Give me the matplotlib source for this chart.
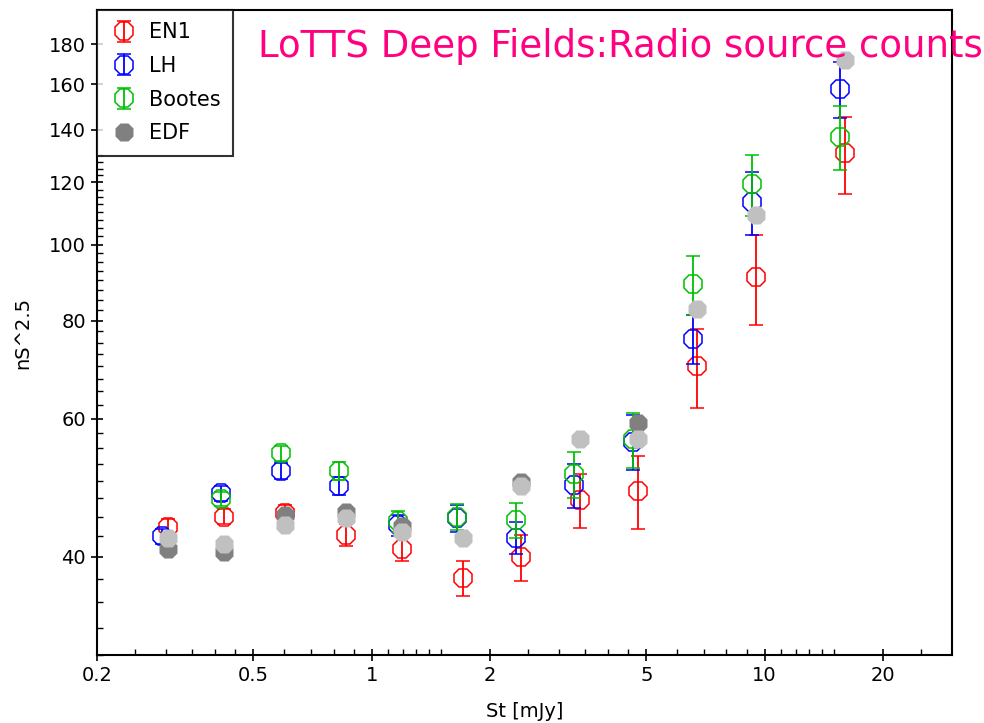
import numpy as np
import matplotlib
matplotlib.use("Agg")
import matplotlib.pyplot as plt
from matplotlib.ticker import FixedLocator, NullFormatter

# flux bins [mJy] and Euclidean-normalised counts per field
en1_s = [0.303, 0.422, 0.602, 0.859, 1.193, 1.706, 2.401, 3.391, 4.77, 6.72, 9.50, 16.03]
en1_n = [43.7, 45.0, 45.5, 42.7, 41.0, 37.6, 40.0, 47.3, 48.6, 70.0, 90.9, 130.7]
en1_err = [1.0, 1.0, 1.1, 1.4, 1.5, 1.9, 2.7, 3.7, 5.2, 8.0, 12.0, 14.6]

lh_s = [0.292, 0.414, 0.588, 0.826, 1.169, 1.652, 2.331, 3.274, 4.63, 6.56, 9.28, 15.57]
lh_n = [42.5, 48.2, 51.5, 49.3, 43.9, 44.8, 42.3, 49.4, 56.1, 75.9, 113.3, 157.9]
lh_err = [0.9, 1.0, 1.2, 1.3, 1.4, 1.8, 2.0, 3.2, 4.5, 5.5, 10.5, 13.0]

boo_s = [0.414, 0.588, 0.826, 1.169, 1.652, 2.331, 3.274, 4.63, 6.56, 9.28, 15.57]
boo_n = [47.4, 54.2, 51.5, 44.4, 45.0, 44.6, 51.0, 56.5, 89.0, 119.5, 137.3]
boo_err = [1.0, 1.2, 1.3, 1.4, 1.7, 2.3, 3.4, 4.6, 7.7, 10.6, 12.8]

edf_s = [0.303, 0.422, 0.602, 0.859, 1.193, 2.401, 4.77]
edf_n = [40.9, 40.6, 45.2, 45.7, 43.8, 49.8, 59.3]

edf2_s = [0.303, 0.422, 0.602, 0.859, 1.193, 1.706, 2.401, 3.391, 4.77, 6.72, 9.50, 16.03]
edf2_n = [42.3, 41.6, 43.9, 44.8, 43.0, 42.3, 49.3, 56.6, 56.5, 82.9, 109.2, 171.6]

x_major = [0.2, 0.5, 1, 2, 5, 10, 20]
x_labels = ["0.2", "0.5", "1", "2", "5", "10", "20"]
x_minor = [0.25, 0.3, 0.35, 0.4, 0.45, 0.6, 0.7, 0.8, 0.9, 1.1, 1.2, 1.3, 1.4, 1.5,
           2.5, 3, 3.5, 4, 4.5, 6, 7, 8, 9, 11, 12, 13, 14, 15, 25]
y_major = [40, 60, 80, 100, 120, 140, 160, 180]

plt.rcParams['font.family'] = ['DejaVu Sans']

fig = plt.figure(figsize=(9.84, 7.23), dpi=100)
ax = fig.add_axes([97 / 984, 68 / 723, 855 / 984, 645 / 723])
ax.set_xscale('log')
ax.set_yscale('log')

ebkw = dict(fmt='8', ms=14, mfc='none', mew=1.1, elinewidth=1.3, capsize=5, capthick=1.3)
h_en1 = ax.errorbar(en1_s, en1_n, yerr=en1_err, color='#ff0000', label='EN1', zorder=3, **ebkw)
h_lh = ax.errorbar(lh_s, lh_n, yerr=lh_err, color='#0000ff', label='LH', zorder=4, **ebkw)
h_boo = ax.errorbar(boo_s, boo_n, yerr=boo_err, color='#00c000', label='Bootes', zorder=5, **ebkw)
h_edf, = ax.plot(edf_s, edf_n, '8', ms=14, color='#808080', mec='none', label='EDF', zorder=6)
ax.plot(edf2_s, edf2_n, '8', ms=14, color='#c0c0c0', mec='none', zorder=7)

ax.set_xlim(0.2, 30)
ax.set_ylim(30, 199)

ax.xaxis.set_major_locator(FixedLocator(x_major))
ax.set_xticklabels(x_labels)
ax.xaxis.set_minor_locator(FixedLocator(x_minor))
ax.xaxis.set_minor_formatter(NullFormatter())

# minor ticks every 2.5 below the legend box
y_minor = [v for v in np.arange(30, 131, 2.5) if v not in y_major]
ax.yaxis.set_major_locator(FixedLocator(y_major))
ax.set_yticklabels([str(v) for v in y_major])
ax.yaxis.set_minor_locator(FixedLocator(y_minor))
ax.yaxis.set_minor_formatter(NullFormatter())

ax.tick_params(which='major', direction='inout', length=8, width=1.2, labelsize=14, pad=4)
ax.tick_params(which='minor', direction='in', length=4, width=1.0)
for sp in ax.spines.values():
    sp.set_linewidth(1.5)

ax.set_xlabel('St [mJy]', fontsize=14, labelpad=12)
ax.set_ylabel('nS^2.5', fontsize=14, labelpad=12)

leg = ax.legend([h_en1, h_lh, h_boo, h_edf], ['EN1', 'LH', 'Bootes', 'EDF'],
                loc='upper left', fontsize=15, frameon=True, fancybox=False,
                borderaxespad=0, handletextpad=0.5, labelspacing=0.65,
                borderpad=0.6, handlelength=1.4)
leg.get_frame().set_edgecolor('black')
leg.get_frame().set_linewidth(1.5)
leg.set_zorder(10)

fig.text(258 / 984, 1 - 57 / 723, 'LoTTS Deep Fields:Radio source counts',
         color='#ff0080', fontsize=26.7, va='baseline', ha='left')

fig.savefig('out.png', dpi=100)
